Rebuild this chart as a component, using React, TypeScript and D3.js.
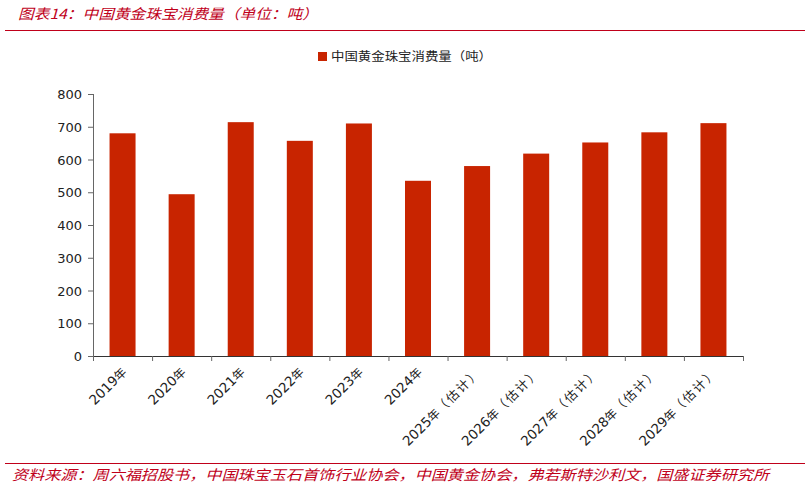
import * as d3 from 'd3'

const years = ['2019', '2020', '2021', '2022', '2023', '2024', '2025', '2026', '2027', '2028', '2029']
const estimated = [false, false, false, false, false, false, true, true, true, true, true]
const consumption = [680, 494, 714, 657, 710, 535, 580, 618, 652, 683, 711]
const yTicks = [0, 100, 200, 300, 400, 500, 600, 700, 800]

const W = 810
const H = 488
const margin = { left: 93, right: 67, top: 94, bottom: 132 }
const barColor = '#C82400'
const red = '#C0001A'
const cjk = '"Noto Sans CJK SC", "DejaVu Sans", sans-serif'
const latin = '"DejaVu Sans", sans-serif'

const App = () => {
  const x = d3
    .scaleBand()
    .domain(years)
    .range([margin.left, W - margin.right])
    .paddingInner(0.56)
    .paddingOuter(0.28)

  const y = d3
    .scaleLinear()
    .domain([0, 800])
    .range([H - margin.bottom, margin.top])

  const step = (W - margin.right - margin.left) / years.length
  const baseY = y(0)

  return (
    <svg width={W} height={H} style={{ position: 'absolute', left: 0, top: 0, background: '#fff' }}>
      {/* title */}
      <text x={18} y={19} fill={red} fontFamily={cjk} fontSize={14} fontStyle="italic"
        textLength={300} lengthAdjust="spacingAndGlyphs">
        图表14：中国黄金珠宝消费量（单位：吨）
      </text>
      <line x1={5} x2={805} y1={30.5} y2={30.5} stroke={red} strokeWidth={1} />

      {/* legend */}
      <rect x={318} y={52} width={9} height={9} fill={barColor} />
      <text x={331} y={61} fill="#222" fontFamily={cjk} fontSize={12}
        textLength={161} lengthAdjust="spacingAndGlyphs">
        中国黄金珠宝消费量（吨）
      </text>

      {/* bars */}
      <g>
        {consumption.map((v, i) => (
          <rect key={years[i]} x={x(years[i])} y={y(v)} width={x.bandwidth()}
            height={baseY - y(v)} fill={barColor} />
        ))}
      </g>

      {/* y axis */}
      <line x1={margin.left + 0.5} x2={margin.left + 0.5} y1={y(800)} y2={baseY} stroke="#666" />
      {yTicks.map((t) => (
        <g key={t}>
          <line x1={margin.left - 5} x2={margin.left} y1={y(t) + 0.5} y2={y(t) + 0.5} stroke="#666" />
          <text x={margin.left - 11} y={y(t) + 5} textAnchor="end" fill="#222"
            fontFamily={latin} fontSize={13}>{t}</text>
        </g>
      ))}

      {/* x axis */}
      <line x1={margin.left} x2={W - margin.right} y1={baseY + 0.5} y2={baseY + 0.5} stroke="#333" />
      {d3.range(years.length + 1).map((i) => (
        <line key={i} x1={margin.left + i * step + 0.5} x2={margin.left + i * step + 0.5}
          y1={baseY} y2={baseY + 5} stroke="#666" />
      ))}
      {years.map((yr, i) => {
        const cx = (x(yr) ?? 0) + x.bandwidth() / 2 + 5
        const cy = baseY + 17
        return (
          <text key={yr} transform={`translate(${cx},${cy}) rotate(-45)`} textAnchor="end"
            fill="#222" fontFamily={latin} fontSize={13.5}>
            {yr}
            <tspan fontFamily={cjk} fontSize={12}>年</tspan>
            {estimated[i] && (
              <tspan fontFamily={cjk} fontSize={12.5} letterSpacing={2}>（估计）</tspan>
            )}
          </text>
        )
      })}

      {/* source */}
      <line x1={5} x2={805} y1={463.5} y2={463.5} stroke={red} strokeWidth={1} />
      <text x={12} y={480} fill={red} fontFamily={cjk} fontSize={14} fontStyle="italic"
        textLength={757} lengthAdjust="spacingAndGlyphs">
        资料来源：周六福招股书，中国珠宝玉石首饰行业协会，中国黄金协会，弗若斯特沙利文，国盛证券研究所
      </text>
    </svg>
  )
}

export default App
